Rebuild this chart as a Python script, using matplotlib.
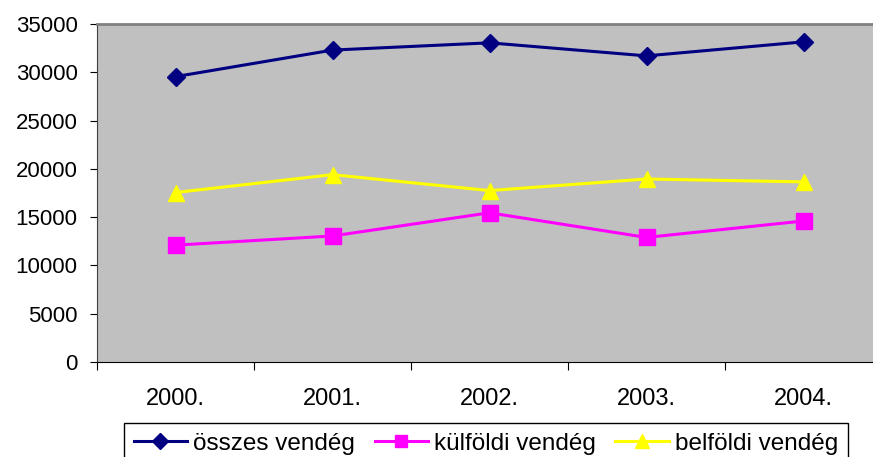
import matplotlib.pyplot as plt
import numpy as np

plt.rcParams['font.family'] = ['Liberation Sans', 'DejaVu Sans']

years = ['2000.', '2001.', '2002.', '2003.', '2004.']
osszes = [29550, 32300, 33050, 31700, 33150]
kulfoldi = [12100, 13050, 15450, 12900, 14600]
belfoldi = [17550, 19400, 17750, 18950, 18650]

fig = plt.figure(figsize=(8.73, 4.57), dpi=100)
ax = fig.add_axes([97 / 873, 95 / 457, 785 / 873, 338 / 457])
ax.set_facecolor('#C0C0C0')

x = np.arange(len(years)) + 0.5
ax.plot(x, osszes, color='#000080', lw=2.2, marker='D', ms=9, label='összes vendég')
ax.plot(x, kulfoldi, color='#FF00FF', lw=2.2, marker='s', ms=11, label='külföldi vendég')
ax.plot(x, belfoldi, color='#FFFF00', lw=2.2, marker='^', ms=12, label='belföldi vendég')

ax.set_xlim(0, len(years))
ax.set_ylim(0, 35000)
ax.set_yticks(np.arange(0, 35001, 5000))
ax.set_xticks(np.arange(0, len(years) + 1))
ax.set_xticklabels([])
ax.set_xticks(x, minor=True)
ax.set_xticklabels(years, minor=True)
ax.tick_params(axis='x', which='minor', length=0, pad=19, labelsize=17)
ax.tick_params(axis='x', which='major', length=6, direction='out', color='black')
ax.tick_params(axis='y', length=5, pad=9, labelsize=16, color='black')

ax.spines['top'].set_color('#808080')
ax.spines['top'].set_linewidth(2)
ax.spines['right'].set_visible(False)
ax.spines['left'].set_color('#404040')
ax.spines['bottom'].set_color('black')

fig.legend(loc='upper left', bbox_to_anchor=(124 / 873, 1 - 423 / 457), ncol=3, fontsize=17.5,
           frameon=True, fancybox=False, edgecolor='black', framealpha=1,
           handlelength=2.2, handletextpad=0.25, columnspacing=0.8, borderpad=0.4,
           markerscale=0.85, borderaxespad=0)

fig.savefig('out.png', dpi=100)
